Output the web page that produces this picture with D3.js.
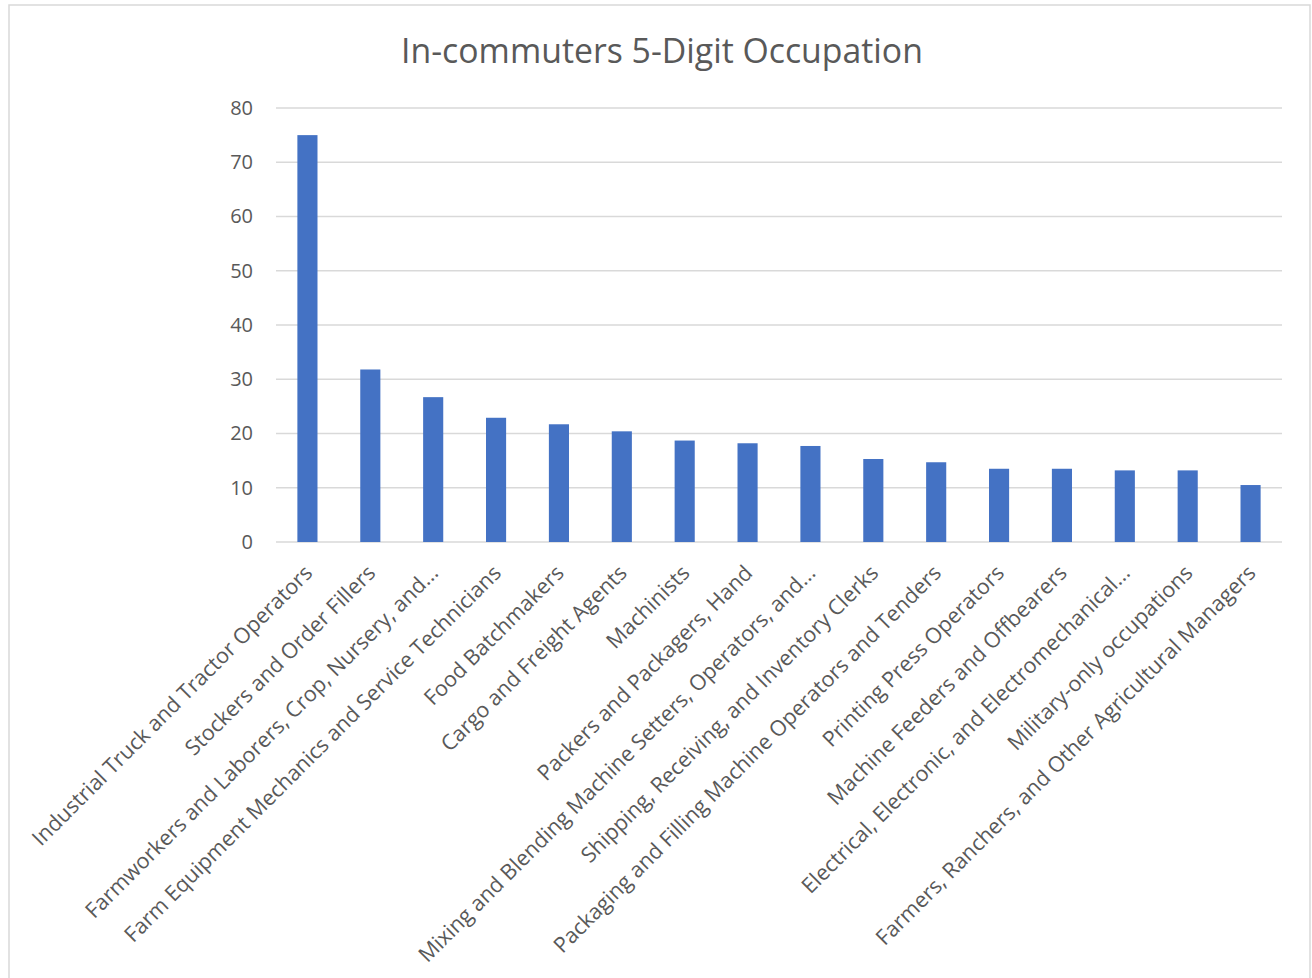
<!DOCTYPE html>
<html>
<head>
<meta charset="utf-8">
<title>In-commuters 5-Digit Occupation</title>
<style>
    body { margin: 0; background: #fff; }
    svg text { font-family: "Open Sans", "Noto Sans", sans-serif; fill: #595959; }
    g.grid line { stroke: #d9d9d9; stroke-width: 1.5; }
    g.bars rect { fill: #4472c4; }
</style>
</head>
<body>
<div id="target"></div>
<script src="https://cdnjs.cloudflare.com/ajax/libs/d3/7.8.5/d3.min.js"></script>
<script>
    var occupations = [
        'Industrial Truck and Tractor Operators',
        'Stockers and Order Fillers',
        'Farmworkers and Laborers, Crop, Nursery, and...',
        'Farm Equipment Mechanics and Service Technicians',
        'Food Batchmakers',
        'Cargo and Freight Agents',
        'Machinists',
        'Packers and Packagers, Hand',
        'Mixing and Blending Machine Setters, Operators, and...',
        'Shipping, Receiving, and Inventory Clerks',
        'Packaging and Filling Machine Operators and Tenders',
        'Printing Press Operators',
        'Machine Feeders and Offbearers',
        'Electrical, Electronic, and Electromechanical...',
        'Military-only occupations',
        'Farmers, Ranchers, and Other Agricultural Managers'
    ];
    var commuters = [75, 31.8, 26.7, 22.9, 21.7, 20.4, 18.7, 18.2, 17.7, 15.3, 14.7, 13.5, 13.5, 13.2, 13.2, 10.5];
    var yTicks = [0, 10, 20, 30, 40, 50, 60, 70, 80];
    var title = 'In-commuters 5-Digit Occupation';

    var width = 1312, height = 978;
    var plotLeft = 276, plotRight = 1282, plotTop = 108, plotBottom = 542;

    var svg = d3.select('#target').append('svg')
        .attr('width', width)
        .attr('height', height);

    // chart frame
    svg.append('rect')
        .attr('x', 9).attr('y', 5)
        .attr('width', 1301).attr('height', 990)
        .attr('fill', '#fff')
        .attr('stroke', '#d9d9d9')
        .attr('stroke-width', 1.5);

    var x = d3.scaleBand()
        .domain(occupations)
        .range([plotLeft, plotRight])
        .paddingInner(0.68)
        .paddingOuter(0.34);

    var y = d3.scaleLinear()
        .domain([0, 80])
        .range([plotBottom, plotTop]);

    // title, fitted to the width it has in the picture
    var t = svg.append('text')
        .attr('x', 662).attr('y', 63)
        .attr('text-anchor', 'middle')
        .style('font-size', '30px')
        .text(title);
    var tw = t.node().getComputedTextLength();
    t.style('font-size', (30 * 522 / tw) + 'px');

    // gridlines
    svg.append('g').attr('class', 'grid')
        .selectAll('line')
        .data(yTicks)
        .enter().append('line')
        .attr('x1', plotLeft).attr('x2', plotRight)
        .attr('y1', function (d) { return y(d); })
        .attr('y2', function (d) { return y(d); });

    // y labels
    var yAxis = svg.append('g')
        .attr('transform', 'translate(' + plotLeft + ',0)')
        .call(d3.axisLeft(y).tickValues(yTicks).tickSize(0).tickPadding(23));
    yAxis.select('.domain').remove();
    yAxis.selectAll('text')
        .style('font-size', '20px')
        .style('font-family', '"Open Sans", "Noto Sans", sans-serif')
        .attr('fill', '#595959');

    // bars
    svg.append('g').attr('class', 'bars')
        .selectAll('rect')
        .data(commuters)
        .enter().append('rect')
        .attr('x', function (d, i) { return x(occupations[i]); })
        .attr('y', function (d) { return y(d); })
        .attr('width', x.bandwidth())
        .attr('height', function (d) { return y(0) - y(d); });

    // x labels, rotated 45 degrees
    var xAxis = svg.append('g')
        .attr('transform', 'translate(0,' + plotBottom + ')')
        .call(d3.axisBottom(x).tickSize(0).tickPadding(0));
    xAxis.select('.domain').remove();
    xAxis.selectAll('text')
        .style('font-size', '21.5px')
        .style('font-family', '"Open Sans", "Noto Sans", sans-serif')
        .attr('fill', '#595959')
        .attr('text-anchor', 'end')
        .attr('dy', '0.35em')
        .attr('transform', 'translate(1,27) rotate(-45)');
</script>
</body>
</html>
